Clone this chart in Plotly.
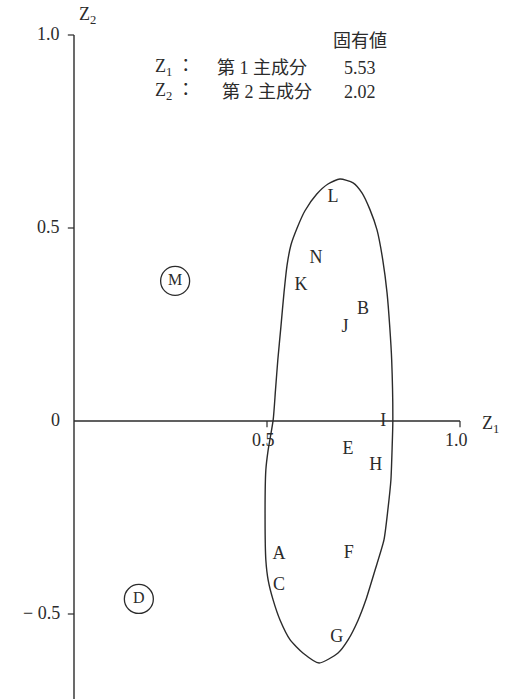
import plotly.graph_objects as go

# Principal component scores of each sample (Z1, Z2)
labels = ["A", "B", "C", "E", "F", "G", "H", "I", "J", "K", "L", "N"]
z1 = [0.531, 0.749, 0.531, 0.710, 0.712, 0.681, 0.782, 0.801, 0.702, 0.588, 0.671, 0.627]
z2 = [-0.345, 0.290, -0.427, -0.075, -0.342, -0.562, -0.114, 0.0, 0.241, 0.352, 0.580, 0.420]

# Outlying samples (drawn circled)
out_labels = ["M", "D"]
out_z1 = [0.262, 0.168]
out_z2 = [0.363, -0.461]

# Boundary of the main group
group_z1 = [0.689, 0.723, 0.746, 0.767, 0.785, 0.800, 0.811, 0.818, 0.823, 0.826, 0.824,
            0.821, 0.813, 0.803, 0.780, 0.756, 0.736, 0.710, 0.684, 0.635, 0.593, 0.560,
            0.534, 0.516, 0.503, 0.497, 0.495, 0.497, 0.503, 0.516, 0.522, 0.528, 0.536,
            0.544, 0.552, 0.562, 0.578, 0.598, 0.629, 0.658, 0.689]
group_z2 = [0.627, 0.617, 0.591, 0.547, 0.495, 0.417, 0.332, 0.244, 0.158, 0.0, -0.075,
            -0.153, -0.231, -0.308, -0.386, -0.464, -0.516, -0.567, -0.601, -0.627, -0.601, -0.567,
            -0.516, -0.464, -0.412, -0.360, -0.256, -0.127, -0.075, 0.003, 0.080, 0.158, 0.244,
            0.332, 0.404, 0.456, 0.500, 0.544, 0.588, 0.614, 0.627]

# Axis ticks
x_ticks = [0.5, 1.0]
x_tick_text = ["0.5", "1.0"]
y_ticks = [1.0, 0.5, 0.0, -0.5]
y_tick_text = ["1.0", "0.5", "0", "\u2212 0.5"]

# Eigenvalues
comp_names = ["Z<sub>1</sub> \uff1a", "Z<sub>2</sub> \uff1a"]
comp_desc = ["第 1 主成分", "第 2 主成分"]
eigenvalues = ["5.53", "2.02"]

INK = "#2b2b2b"
FONT = "Liberation Serif, Noto Sans CJK JP, serif"
FS = 18
tk = 0.016  # tick length in data units

fig = go.Figure()

fig.add_trace(go.Scatter(
    x=group_z1, y=group_z2, mode="lines",
    line=dict(color=INK, width=1.4, shape="spline", smoothing=0.6),
    hoverinfo="skip", showlegend=False))

fig.add_trace(go.Scatter(
    x=z1, y=z2, mode="text", text=labels, textposition="middle center",
    textfont=dict(family=FONT, size=FS, color=INK), showlegend=False))

fig.add_trace(go.Scatter(
    x=out_z1, y=out_z2, mode="markers+text", text=out_labels, textposition="middle center",
    marker=dict(symbol="circle-open", size=29, color=INK, line=dict(width=1.3, color=INK)),
    textfont=dict(family=FONT, size=16, color=INK), showlegend=False))

shapes = []
# axes lines
shapes.append(dict(type="line", x0=0, x1=1.0, y0=0, y1=0, line=dict(color=INK, width=1.4)))
shapes.append(dict(type="line", x0=0, x1=0, y0=1.0, y1=-0.75, line=dict(color=INK, width=1.4)))
for xv in x_ticks:
    shapes.append(dict(type="line", x0=xv, x1=xv, y0=0, y1=-tk, line=dict(color=INK, width=1.2)))
for yv in y_ticks:
    if yv != 0:
        shapes.append(dict(type="line", x0=-tk, x1=0, y0=yv, y1=yv, line=dict(color=INK, width=1.2)))

ann = []
for xv, t in zip(x_ticks, x_tick_text):
    ann.append(dict(x=xv - 0.01, y=-0.05, text=t, showarrow=False, xanchor="center",
                    yanchor="middle", font=dict(family=FONT, size=FS, color=INK)))
for yv, t in zip(y_ticks, y_tick_text):
    ann.append(dict(x=-0.03, y=yv + 0.003, text=t, showarrow=False, xanchor="right",
                    yanchor="middle", font=dict(family=FONT, size=FS, color=INK)))
ann.append(dict(x=0.035, y=1.05, text="Z<sub>2</sub>", showarrow=False, xanchor="center",
                yanchor="middle", font=dict(family=FONT, size=FS, color=INK)))
ann.append(dict(x=1.08, y=-0.01, text="Z<sub>1</sub>", showarrow=False, xanchor="center",
                yanchor="middle", font=dict(family=FONT, size=FS, color=INK)))

# eigenvalue table
ann.append(dict(x=0.742, y=0.985, text="固有値", showarrow=False, xanchor="center",
                yanchor="middle", font=dict(family=FONT, size=FS, color=INK)))
for i in range(2):
    yy = 0.915 - i * 0.062
    ann.append(dict(x=0.205, y=yy, text=comp_names[i], showarrow=False, xanchor="left",
                    yanchor="middle", font=dict(family=FONT, size=FS, color=INK)))
    ann.append(dict(x=0.365 + i * 0.012, y=yy, text=comp_desc[i], showarrow=False,
                    xanchor="left", yanchor="middle", font=dict(family=FONT, size=FS, color=INK)))
    ann.append(dict(x=0.694, y=yy, text=eigenvalues[i], showarrow=False, xanchor="left",
                    yanchor="middle", font=dict(family=FONT, size=FS, color=INK)))

fig.update_layout(
    width=509, height=699,
    margin=dict(l=0, r=0, t=0, b=0),
    paper_bgcolor="white", plot_bgcolor="white",
    xaxis=dict(range=[-74 / 386, 435 / 386], visible=False, fixedrange=True),
    yaxis=dict(range=[-278 / 386, 421 / 386], visible=False, fixedrange=True),
    shapes=shapes, annotations=ann,
)

fig.write_html("out.html")
